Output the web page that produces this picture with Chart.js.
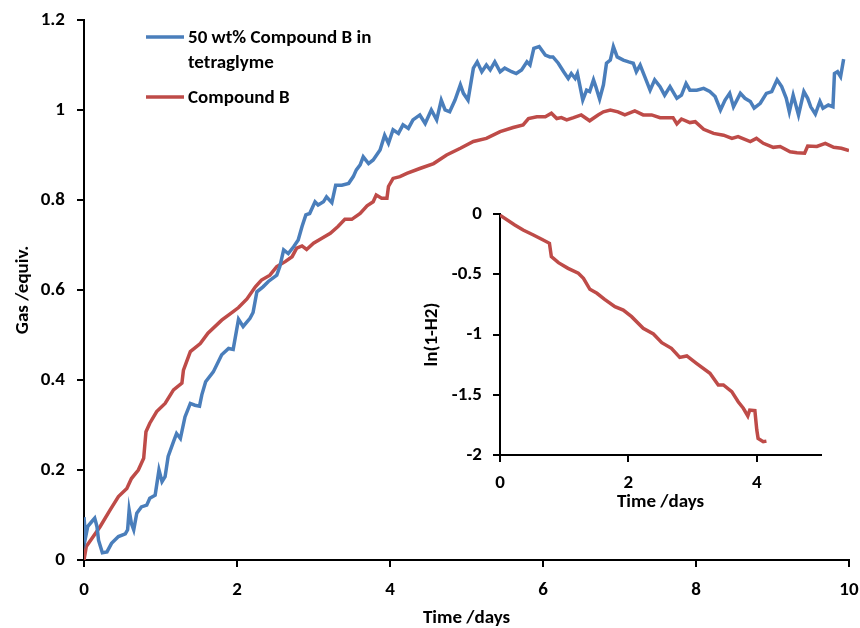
<!DOCTYPE html>
<html>
<head>
<meta charset="utf-8">
<script src="https://cdn.jsdelivr.net/npm/chart.js@4.4.1/dist/chart.umd.min.js"></script>
<style>
  html, body { margin: 0; padding: 0; background: #fff; }
  #wrap { position: relative; width: 860px; height: 628px; }
  #mainChart { position: absolute; left: 0; top: 0; }
  #insetChart { position: absolute; left: 420px; top: 190px; }
</style>
</head>
<body>
<div id="wrap">
  <canvas id="mainChart" width="860" height="628"></canvas>
  <canvas id="insetChart" width="420" height="330"></canvas>
</div>
<script>
// Blue series: 50 wt% Compound B in tetraglyme
const tBlue = [0, 0.02, 0.05, 0.10, 0.14, 0.17, 0.19, 0.24, 0.30, 0.36, 0.45, 0.54, 0.57, 0.59, 0.62, 0.65, 0.69, 0.75, 0.82, 0.86, 0.93, 0.98,
  1.02, 1.06, 1.10, 1.17, 1.21, 1.26, 1.32, 1.39, 1.45, 1.51, 1.54, 1.59, 1.69, 1.80, 1.89, 1.95, 2.02, 2.08, 2.17, 2.21, 2.26, 2.34, 2.41,
  2.52, 2.56, 2.61, 2.67, 2.74, 2.80, 2.85, 2.90, 2.95, 3.02, 3.06, 3.13, 3.17, 3.24, 3.29, 3.37, 3.46, 3.52, 3.56, 3.61, 3.65, 3.72, 3.78,
  3.87, 3.93, 3.98, 4.04, 4.11, 4.17, 4.24, 4.30, 4.39, 4.46, 4.54, 4.61, 4.67, 4.72, 4.78, 4.85, 4.92, 4.96, 5.02, 5.09, 5.14, 5.20, 5.26,
  5.31, 5.37, 5.44, 5.50, 5.59, 5.65, 5.72, 5.79, 5.83, 5.88, 5.95, 6.03, 6.09, 6.13, 6.20, 6.27, 6.33, 6.37, 6.42, 6.45, 6.48, 6.52, 6.57,
  6.61, 6.66, 6.69, 6.74, 6.79, 6.83, 6.88, 6.92, 6.97, 7.05, 7.12, 7.18, 7.22, 7.27, 7.33, 7.40, 7.46, 7.53, 7.59, 7.66, 7.75, 7.81, 7.87,
  7.92, 8.01, 8.10, 8.18, 8.25, 8.32, 8.38, 8.44, 8.49, 8.58, 8.64, 8.71, 8.76, 8.84, 8.92, 8.99, 9.06, 9.12, 9.18, 9.22, 9.27, 9.34, 9.41,
  9.46, 9.50, 9.56, 9.62, 9.66, 9.73, 9.79, 9.81, 9.85, 9.89, 9.93];
const gasBlue = [0.095, 0.05, 0.075, 0.085, 0.093, 0.074, 0.044, 0.016, 0.018, 0.037, 0.052, 0.058, 0.067, 0.111, 0.081, 0.067, 0.104, 0.118, 0.122, 0.137, 0.144, 0.2,
  0.174, 0.185, 0.23, 0.263, 0.281, 0.27, 0.318, 0.348, 0.344, 0.342, 0.367, 0.396, 0.418, 0.456, 0.47, 0.468, 0.535, 0.519, 0.537, 0.55, 0.596, 0.607, 0.619,
  0.633, 0.652, 0.689, 0.681, 0.696, 0.711, 0.741, 0.767, 0.77, 0.796, 0.789, 0.796, 0.807, 0.794, 0.833, 0.833, 0.837, 0.852, 0.867, 0.878, 0.896, 0.881, 0.889,
  0.911, 0.944, 0.926, 0.956, 0.948, 0.967, 0.959, 0.978, 0.989, 0.97, 1.0, 0.978, 1.022, 1.0, 0.996, 1.022, 1.056, 1.037, 1.022, 1.093, 1.107, 1.085, 1.1,
  1.089, 1.107, 1.085, 1.093, 1.085, 1.081, 1.089, 1.107, 1.1, 1.137, 1.141, 1.122, 1.118, 1.118, 1.104, 1.085, 1.07, 1.081, 1.07, 1.081, 1.056, 1.022, 1.044,
  1.041, 1.067, 1.052, 1.024, 1.056, 1.104, 1.111, 1.141, 1.118, 1.111, 1.107, 1.104, 1.085, 1.1, 1.074, 1.044, 1.067, 1.052, 1.033, 1.052, 1.026, 1.033, 1.059,
  1.044, 1.044, 1.048, 1.041, 1.03, 1.0, 1.022, 1.037, 1.007, 1.037, 1.026, 1.019, 1.004, 1.015, 1.037, 1.041, 1.067, 1.052, 1.026, 0.996, 1.033, 0.989, 1.041,
  1.026, 1.007, 0.991, 1.019, 1.004, 1.011, 1.007, 1.081, 1.085, 1.074, 1.113];

// Red series: Compound B
const tRed = [0, 0.03, 0.21, 0.34, 0.45, 0.56, 0.62, 0.71, 0.78, 0.81, 0.86, 0.95, 1.06, 1.17, 1.28, 1.30, 1.39, 1.52, 1.62, 1.80, 1.95, 2.02,
  2.13, 2.24, 2.32, 2.43, 2.52, 2.63, 2.72, 2.78, 2.85, 2.91, 3.00, 3.11, 3.22, 3.32, 3.41, 3.50, 3.61, 3.70, 3.78, 3.82, 3.89, 3.96, 3.98,
  4.04, 4.13, 4.22, 4.39, 4.57, 4.74, 4.92, 5.09, 5.26, 5.44, 5.61, 5.74, 5.81, 5.92, 6.03, 6.11, 6.18, 6.24, 6.31, 6.40, 6.50, 6.61, 6.72,
  6.79, 6.88, 6.98, 7.07, 7.20, 7.31, 7.42, 7.53, 7.64, 7.70, 7.75, 7.81, 7.92, 7.99, 8.10, 8.23, 8.36, 8.47, 8.55, 8.71, 8.79, 8.88, 9.01,
  9.10, 9.23, 9.32, 9.42, 9.46, 9.58, 9.69, 9.80, 9.90, 10.0];
const gasRed = [0, 0.03, 0.074, 0.111, 0.141, 0.159, 0.181, 0.2, 0.226, 0.285, 0.304, 0.33, 0.348, 0.378, 0.393, 0.422, 0.463, 0.481, 0.504, 0.533, 0.552, 0.561,
  0.58, 0.607, 0.622, 0.633, 0.652, 0.663, 0.674, 0.693, 0.698, 0.69, 0.704, 0.715, 0.726, 0.741, 0.757, 0.757, 0.77, 0.787, 0.796, 0.811, 0.804, 0.804, 0.83,
  0.848, 0.852, 0.859, 0.87, 0.881, 0.9, 0.915, 0.93, 0.937, 0.952, 0.961, 0.967, 0.981, 0.985, 0.985, 0.993, 0.981, 0.983, 0.978, 0.983, 0.989, 0.976, 0.989,
  0.996, 1.0, 0.996, 0.989, 0.998, 0.989, 0.989, 0.983, 0.983, 0.983, 0.969, 0.98, 0.972, 0.974, 0.957, 0.948, 0.944, 0.937, 0.941, 0.93, 0.937, 0.926, 0.917,
  0.919, 0.907, 0.905, 0.904, 0.92, 0.919, 0.926, 0.917, 0.915, 0.91];

// Inset: ln(1-H2) for Compound B
const tInset = [0, 0.23, 0.36, 0.52, 0.65, 0.77, 0.80, 0.91, 1.06, 1.22, 1.30, 1.40, 1.51, 1.63, 1.79, 1.92, 2.05, 2.23, 2.39, 2.52, 2.67, 2.80,
  2.91, 3.06, 3.27, 3.40, 3.48, 3.61, 3.71, 3.79, 3.86, 3.89, 3.97, 4.00, 4.02, 4.10, 4.15];
const lnInset = [-0.01, -0.091, -0.133, -0.174, -0.21, -0.243, -0.354, -0.404, -0.451, -0.492, -0.534, -0.625, -0.658, -0.708, -0.769, -0.797, -0.852, -0.949, -0.996, -1.068, -1.115, -1.19,
  -1.178, -1.239, -1.322, -1.419, -1.419, -1.474, -1.558, -1.612, -1.676, -1.627, -1.632, -1.793, -1.862, -1.89, -1.885];

// tick values
const mainXTicks = [0, 2, 4, 6, 8, 10];
const mainYTicks = [0, 0.2, 0.4, 0.6, 0.8, 1, 1.2];
const insetXTicks = [0, 2, 4];
const insetYTicks = [-2, -1.5, -1, -0.5, 0];

const blueLabel = ['50 wt% Compound B in', 'tetraglyme'];
const redLabel = 'Compound B';

const BLUE = '#4a7ebb';
const RED = '#be4b48';
const FONT = 'Carlito, Lato, sans-serif';

function toPoints(xs, ys) {
    return xs.map((x, i) => ({ x: x, y: ys[i] }));
}

function fmt(v) {
    return String(Number(v.toFixed(2)));
}

// one axis config; fit() forces the box size so the plot area lands where the original has it
function axis(min, max, tickList, fit, tickPad, title, titlePad) {
    return {
        type: 'linear',
        min: min,
        max: max,
        afterBuildTicks: s => { s.ticks = tickList.map(v => ({ value: v })); },
        ticks: { color: '#000', padding: tickPad, font: { family: FONT, size: 19, weight: 'bold' }, callback: fmt },
        border: { display: true, color: '#000', width: 2 },
        grid: { display: true, drawOnChartArea: false, drawTicks: true, tickLength: 7, color: '#000', lineWidth: 2 },
        title: { display: true, text: title, color: '#000', padding: titlePad, font: { family: FONT, size: 19, weight: 'bold' } },
        afterFit: fit
    };
}

// legend drawn by hand so the two-line label wraps like the original
const legendPlugin = {
    id: 'handLegend',
    afterDraw(chart) {
        const ctx = chart.ctx;
        ctx.save();
        ctx.font = 'bold 19px ' + FONT;
        ctx.fillStyle = '#000';
        ctx.textBaseline = 'middle';
        ctx.lineWidth = 3.5;
        ctx.strokeStyle = BLUE;
        ctx.beginPath(); ctx.moveTo(146, 37); ctx.lineTo(184, 37); ctx.stroke();
        ctx.fillText(blueLabel[0], 188, 38);
        ctx.fillText(blueLabel[1], 188, 63);
        ctx.strokeStyle = RED;
        ctx.beginPath(); ctx.moveTo(146, 97); ctx.lineTo(184, 97); ctx.stroke();
        ctx.fillText(redLabel, 188, 98);
        ctx.restore();
    }
};

new Chart(document.getElementById('mainChart'), {
    type: 'line',
    data: {
        datasets: [
            { label: blueLabel.join(' '), data: toPoints(tBlue, gasBlue), borderColor: BLUE, borderWidth: 3.5, pointRadius: 0, tension: 0 },
            { label: redLabel, data: toPoints(tRed, gasRed), borderColor: RED, borderWidth: 3.5, pointRadius: 0, tension: 0 }
        ]
    },
    options: {
        responsive: false,
        animation: false,
        layout: { padding: { left: 0, top: 20, right: 11, bottom: 0 } },
        scales: {
            x: axis(0, 10, mainXTicks, s => { s.height = 68; s.paddingRight = 0; s.paddingLeft = 0; }, 12, 'Time /days', { top: 0, bottom: -2 }),
            y: axis(0, 1.2, mainYTicks, s => { s.width = 84; s.paddingTop = 0; s.paddingBottom = 0; }, 12, 'Gas /equiv.', { top: 12, bottom: 0 })
        },
        plugins: { legend: { display: false }, tooltip: { enabled: false } }
    },
    plugins: [legendPlugin]
});

new Chart(document.getElementById('insetChart'), {
    type: 'line',
    data: {
        datasets: [
            { label: 'ln(1-H2)', data: toPoints(tInset, lnInset), borderColor: RED, borderWidth: 3.5, pointRadius: 0, tension: 0 }
        ]
    },
    options: {
        responsive: false,
        animation: false,
        layout: { padding: { left: 0, top: 24, right: 19, bottom: 0 } },
        scales: {
            x: axis(0, 5, insetXTicks, s => { s.height = 65; s.paddingRight = 0; s.paddingLeft = 0; }, 10, 'Time /days', { top: 0, bottom: 6 }),
            y: axis(-2, 0, insetYTicks, s => { s.width = 80; s.paddingTop = 0; s.paddingBottom = 0; }, 11, 'ln(1-H2)', { top: 1, bottom: 0 })
        },
        plugins: { legend: { display: false }, tooltip: { enabled: false } }
    }
});
</script>
</body>
</html>
